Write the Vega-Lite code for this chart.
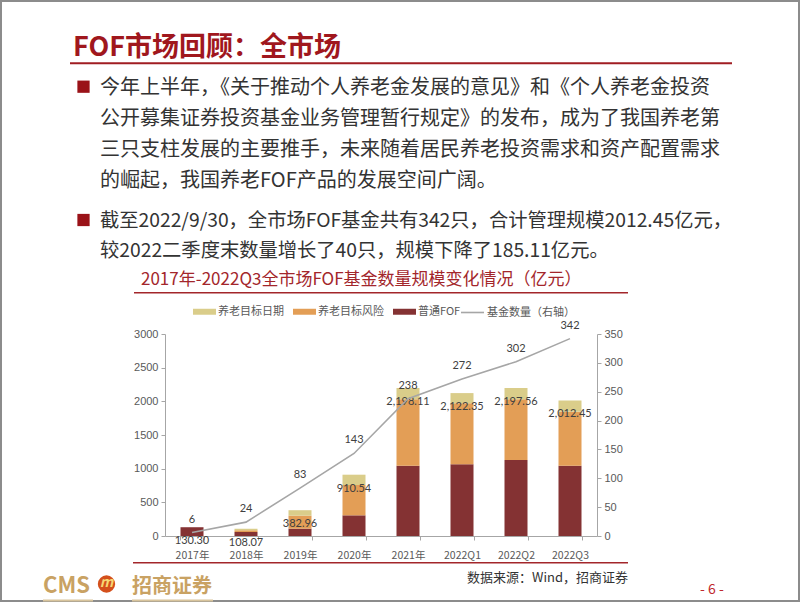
{
  "$schema": "https://vega.github.io/schema/vega-lite/v6.json",
  "width": 798,
  "height": 600,
  "autosize": "none",
  "padding": {"left": 1, "top": 1, "right": 3, "bottom": 1},
  "background": "white",
  "config": {
    "view": {"stroke": "#8c8c8c", "strokeWidth": 2},
    "font": "Noto Sans CJK SC",
    "axis": {"grid": false, "title": null, "domainColor": "#A6A6A6", "tickColor": "#A6A6A6", "tickSize": 4, "labelColor": "#595959", "labelFont": "Liberation Sans", "labelFontSize": 11}
  },
  "datasets": {
    "stack": [
      {"year": "2017年", "type": "普通FOF", "value": 130.3},
      {"year": "2018年", "type": "普通FOF", "value": 58},
      {"year": "2018年", "type": "养老目标风险", "value": 28},
      {"year": "2018年", "type": "养老目标日期", "value": 22.07},
      {"year": "2019年", "type": "普通FOF", "value": 109},
      {"year": "2019年", "type": "养老目标风险", "value": 193},
      {"year": "2019年", "type": "养老目标日期", "value": 80.96},
      {"year": "2020年", "type": "普通FOF", "value": 307},
      {"year": "2020年", "type": "养老目标风险", "value": 450.54},
      {"year": "2020年", "type": "养老目标日期", "value": 153},
      {"year": "2021年", "type": "普通FOF", "value": 1044},
      {"year": "2021年", "type": "养老目标风险", "value": 986.11},
      {"year": "2021年", "type": "养老目标日期", "value": 168},
      {"year": "2022Q1", "type": "普通FOF", "value": 1065},
      {"year": "2022Q1", "type": "养老目标风险", "value": 906.35},
      {"year": "2022Q1", "type": "养老目标日期", "value": 151},
      {"year": "2022Q2", "type": "普通FOF", "value": 1129},
      {"year": "2022Q2", "type": "养老目标风险", "value": 901.56},
      {"year": "2022Q2", "type": "养老目标日期", "value": 167},
      {"year": "2022Q3", "type": "普通FOF", "value": 1044},
      {"year": "2022Q3", "type": "养老目标风险", "value": 802.45},
      {"year": "2022Q3", "type": "养老目标日期", "value": 166}
    ],
    "totals": [
      {"year": "2017年", "total": 130.3, "count": 6},
      {"year": "2018年", "total": 108.07, "count": 24},
      {"year": "2019年", "total": 382.96, "count": 83},
      {"year": "2020年", "total": 910.54, "count": 143},
      {"year": "2021年", "total": 2198.11, "count": 238},
      {"year": "2022Q1", "total": 2122.35, "count": 272},
      {"year": "2022Q2", "total": 2197.56, "count": 302},
      {"year": "2022Q3", "total": 2012.45, "count": 342}
    ]
  },
  "layer": [
    {
      "layer": [
        {
          "data": {"name": "stack"},
          "mark": {"type": "bar"},
          "encoding": {
            "x": {"field": "year", "type": "nominal", "sort": ["2017年","2018年","2019年","2020年","2021年","2022Q1","2022Q2","2022Q3"],
                  "scale": {"range": [164, 596], "paddingInner": 0.574, "paddingOuter": 0.287},
                  "axis": {"orient": "bottom", "offset": -65, "labelAngle": 0, "tickBand": "extent", "labelFont": "Noto Sans CJK SC", "labelFontSize": 10.5, "labelPadding": 10}},
            "y": {"field": "value", "type": "quantitative", "stack": "zero",
                  "scale": {"domain": [0, 3000], "range": [535, 333], "nice": false},
                  "axis": {"orient": "left", "offset": -164, "values": [0,500,1000,1500,2000,2500,3000], "format": "d", "labelPadding": 3}},
            "color": {"field": "type", "type": "nominal",
                      "scale": {"domain": ["养老目标日期","养老目标风险","普通FOF"], "range": ["#DACD8A","#E39E56","#843233"]},
                      "legend": {"orient": "none", "legendX": 192, "legendY": 299, "direction": "horizontal", "title": null, "padding": 0,
                                 "symbolType": "M-1,-0.26H1V0.26H-1Z", "symbolSize": 529, "symbolStrokeWidth": 0,
                                 "labelFont": "Noto Sans CJK SC", "labelFontSize": 11, "labelColor": "#595959", "labelOffset": 2, "columnPadding": 9}},
            "order": {"field": "type", "sort": "descending"}
          }
        },
        {
          "data": {"name": "totals"},
          "mark": {"type": "text", "baseline": "middle", "dy": 14, "font": "Lato", "fontSize": 11, "color": "#404040"},
          "encoding": {
            "x": {"field": "year", "type": "nominal", "sort": ["2017年","2018年","2019年","2020年","2021年","2022Q1","2022Q2","2022Q3"]},
            "y": {"field": "total", "type": "quantitative"},
            "text": {"field": "total", "type": "quantitative", "format": ",.2f"}
          }
        }
      ]
    },
    {
      "layer": [
        {
          "data": {"name": "totals"},
          "mark": {"type": "line", "strokeWidth": 1.6},
          "encoding": {
            "x": {"field": "year", "type": "nominal", "sort": ["2017年","2018年","2019年","2020年","2021年","2022Q1","2022Q2","2022Q3"]},
            "y": {"field": "count", "type": "quantitative",
                  "scale": {"domain": [0, 350], "range": [535, 333], "nice": false},
                  "axis": {"orient": "right", "offset": -202, "values": [0,50,100,150,200,250,300,350], "labelPadding": 3}},
            "stroke": {"datum": "基金数量（右轴）", "type": "nominal",
                       "scale": {"range": ["#A6A6A6"]},
                       "legend": {"orient": "none", "legendX": 459, "legendY": 299, "title": null, "padding": 0,
                                  "symbolType": "stroke", "symbolSize": 529, "symbolStrokeWidth": 1.6,
                                  "labelFont": "Noto Sans CJK SC", "labelFontSize": 11, "labelColor": "#595959", "labelOffset": 2}}
          }
        },
        {
          "data": {"name": "totals"},
          "mark": {"type": "text", "baseline": "middle", "dy": -13, "font": "Lato", "fontSize": 11, "color": "#404040"},
          "encoding": {
            "x": {"field": "year", "type": "nominal", "sort": ["2017年","2018年","2019年","2020年","2021年","2022Q1","2022Q2","2022Q3"]},
            "y": {"field": "count", "type": "quantitative"},
            "text": {"field": "count", "type": "quantitative"}
          }
        }
      ]
    },
    {
      "data": {"values": [{"t": "FOF市场回顾：全市场"}]},
      "mark": {"type": "text", "align": "left", "baseline": "alphabetic", "fontSize": 27, "fontWeight": "bold", "color": "#A0171D"},
      "encoding": {"text": {"field": "t"}, "x": {"value": 72}, "y": {"value": 55}}
    },
    {
      "data": {"values": [{}]},
      "mark": {"type": "rule", "color": "#A01D22", "strokeWidth": 2},
      "encoding": {"x": {"value": 69}, "x2": {"value": 731}, "y": {"value": 62.3}}
    },
    {
      "data": {"values": [{}]},
      "mark": {"type": "point", "shape": "square", "filled": true, "opacity": 1, "size": 150, "color": "#9A1218"},
      "encoding": {"x": {"value": 82.5}, "y": {"value": 85.7}}
    },
    {
      "data": {"values": [{}]},
      "mark": {"type": "point", "shape": "square", "filled": true, "opacity": 1, "size": 150, "color": "#9A1218"},
      "encoding": {"x": {"value": 82.5}, "y": {"value": 219}}
    },
    {
      "data": {"values": [{"t": "今年上半年，《关于推动个人养老金发展的意见》和《个人养老金投资\n公开募集证券投资基金业务管理暂行规定》的发布，成为了我国养老第\n三只支柱发展的主要推手，未来随着居民养老投资需求和资产配置需求\n的崛起，我国养老FOF产品的发展空间广阔。"}]},
      "mark": {"type": "text", "align": "left", "baseline": "alphabetic", "fontSize": 20, "lineBreak": "\n", "lineHeight": 31, "color": "#333333"},
      "encoding": {"text": {"field": "t"}, "x": {"value": 99}, "y": {"value": 93.3}}
    },
    {
      "data": {"values": [{"t": "截至2022/9/30，全市场FOF基金共有342只，合计管理规模2012.45亿元，\n较2022二季度末数量增长了40只，规模下降了185.11亿元。"}]},
      "mark": {"type": "text", "align": "left", "baseline": "alphabetic", "fontSize": 19.3, "lineBreak": "\n", "lineHeight": 30, "color": "#333333"},
      "encoding": {"text": {"field": "t"}, "x": {"value": 99}, "y": {"value": 226.4}}
    },
    {
      "data": {"values": [{"t": "2017年-2022Q3全市场FOF基金数量规模变化情况（亿元）"}]},
      "mark": {"type": "text", "align": "left", "baseline": "alphabetic", "fontSize": 17, "color": "#A3262B"},
      "encoding": {"text": {"field": "t"}, "x": {"value": 140}, "y": {"value": 283.5}}
    },
    {
      "data": {"values": [{}]},
      "mark": {"type": "rule", "color": "#A3262B", "strokeWidth": 1.6},
      "encoding": {"x": {"value": 133}, "x2": {"value": 627}, "y": {"value": 291.7}}
    },
    {
      "data": {"values": [{}]},
      "mark": {"type": "rule", "color": "#A3262B", "strokeWidth": 1.6},
      "encoding": {"x": {"value": 132}, "x2": {"value": 627}, "y": {"value": 561.7}}
    },
    {
      "data": {"values": [{"t": "数据来源：Wind，招商证券"}]},
      "mark": {"type": "text", "align": "left", "baseline": "alphabetic", "fontSize": 13, "color": "#333333"},
      "encoding": {"text": {"field": "t"}, "x": {"value": 466}, "y": {"value": 581}}
    },
    {
      "data": {"values": [{"t": "- 6 -"}]},
      "mark": {"type": "text", "align": "left", "baseline": "alphabetic", "fontSize": 14, "color": "#C0282D"},
      "encoding": {"text": {"field": "t"}, "x": {"value": 699}, "y": {"value": 593}}
    },
    {
      "data": {"values": [{"t": "CMS"}]},
      "mark": {"type": "text", "align": "left", "baseline": "alphabetic", "fontSize": 22, "fontWeight": "bold", "color": "#C9A263"},
      "encoding": {"text": {"field": "t"}, "x": {"value": 42}, "y": {"value": 592}}
    },
    {
      "data": {"values": [{}]},
      "mark": {"type": "point", "shape": "circle", "filled": true, "opacity": 1, "size": 300, "color": "#D4501C"},
      "encoding": {"x": {"value": 105.5}, "y": {"value": 583}}
    },
    {
      "data": {"values": [{"t": "m"}]},
      "mark": {"type": "text", "align": "center", "baseline": "middle", "fontSize": 14, "fontWeight": "bold", "fontStyle": "italic", "color": "#F7D774"},
      "encoding": {"text": {"field": "t"}, "x": {"value": 105.5}, "y": {"value": 581.5}}
    },
    {
      "data": {"values": [{"t": "招商证券"}]},
      "mark": {"type": "text", "align": "left", "baseline": "alphabetic", "fontSize": 20, "fontWeight": "bold", "color": "#C9A263"},
      "encoding": {"text": {"field": "t"}, "x": {"value": 131}, "y": {"value": 591.5}}
    },
    {
      "data": {"values": [{}]},
      "mark": {"type": "rule", "color": "#D8C49C", "strokeWidth": 2},
      "encoding": {"x": {"value": 42}, "x2": {"value": 92}, "y": {"value": 599.5}}
    },
    {
      "data": {"values": [{}]},
      "mark": {"type": "rule", "color": "#D8C49C", "strokeWidth": 2},
      "encoding": {"x": {"value": 131}, "x2": {"value": 212}, "y": {"value": 599.5}}
    }
  ],
  "resolve": {"scale": {"y": "independent"}}
}
